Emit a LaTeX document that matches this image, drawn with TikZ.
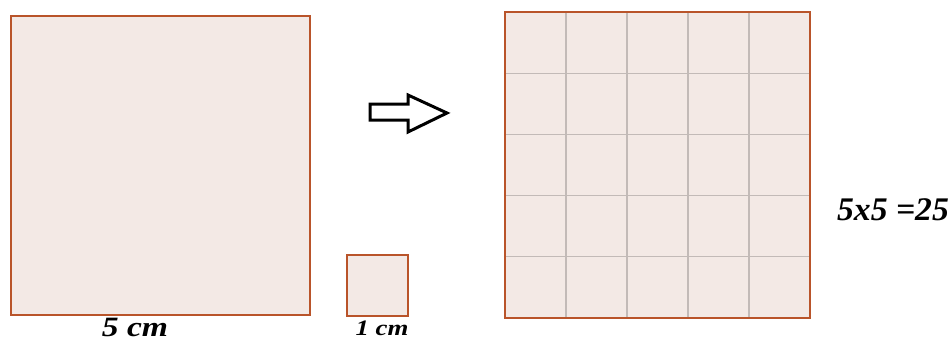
\documentclass[tikz,border=0pt]{standalone}
\usepackage{fontspec}
\usepackage{graphicx}
\setmainfont{Liberation Serif}
\definecolor{sqfill}{HTML}{F3E9E5}
\definecolor{sqedge}{HTML}{B9542A}
\definecolor{gridc}{HTML}{C2BAB7}
\begin{document}
\begin{tikzpicture}[x=1pt,y=-1pt,
  sq/.style={draw=sqedge,fill=sqfill,line width=1.6pt},
  gl/.style={gridc,line width=1.3pt},
  lbl/.style={inner sep=0pt,anchor=center}]
\useasboundingbox (0,0) rectangle (952,343);
\draw[sq] (11,16) rectangle (310,315);
\draw[sq] (347,255) rectangle (408,316);
\fill[sqfill] (505,12) rectangle (810,318);
\foreach \i in {1,...,4} {
  \draw[gl] (505+61*\i,12) -- (505+61*\i,318);
  \draw[gl] (505,12+61.2*\i) -- (810,12+61.2*\i);
}
\draw[sqedge,line width=1.6pt] (505,12) rectangle (810,318);
\draw[black,line width=3pt,line join=miter]
  (370,104) -- (408,104) -- (408,95) -- (447,113) -- (408,132) -- (408,120) -- (370,120) -- cycle;
\node[lbl,font=\fontsize{28}{30}\selectfont\bfseries\itshape] (t5) at (135,327) {\scalebox{1.2}[1]{5 cm}};
\node[lbl,font=\fontsize{22}{24}\selectfont\bfseries\itshape] (t1) at (382,328) {\scalebox{1.22}[1]{1 cm}};
\node[lbl,font=\fontsize{33}{35}\selectfont\bfseries\itshape] (eq) at (893,210) {\scalebox{1.02}[1]{5x5 =25}};
\end{tikzpicture}
\end{document}
